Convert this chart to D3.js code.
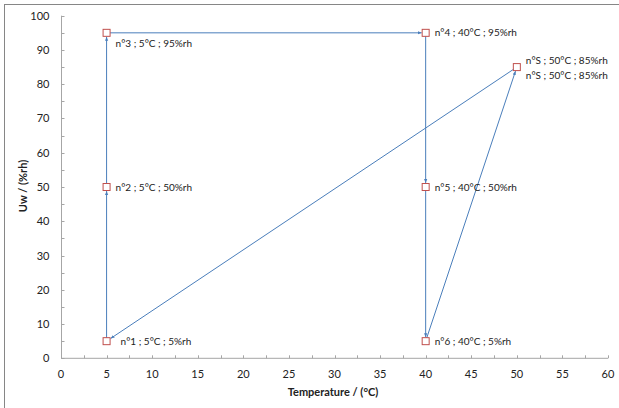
<!DOCTYPE html>
<html>
<head>
<meta charset="utf-8">
<script src="https://cdn.jsdelivr.net/npm/d3@7"></script>
<style>
  body { margin: 0; background: #fff; }
  svg { font-family: Lato, "Open Sans", sans-serif; }
</style>
</head>
<body>
<div id="chart"></div>
<script>
  "use strict";
  // cycle points (temperature, humidity)
  var names = ["n°1", "n°2", "n°3", "n°4", "n°5", "n°6", "n°S"];
  var temps = [5, 5, 5, 40, 40, 40, 50];
  var hums = [5, 50, 95, 95, 50, 5, 85];
  var order = [0, 1, 2, 3, 4, 5, 6, 0];
  var xTicks = d3.range(0, 61, 5);
  var yTicks = d3.range(0, 101, 10);

  var W = 619, H = 408;
  var x = d3.scaleLinear().domain([0, 60]).range([61, 608]);
  var y = d3.scaleLinear().domain([0, 100]).range([358.3, 15.7]);
  var axisCol = "#a6a6a6";
  var lineCol = "#4a7ebb";
  var markCol = "#c0504d";

  var svg = d3.select("#chart").append("svg")
              .attr("width", W).attr("height", H);

  svg.append("rect")
     .attr("x", 4.5).attr("y", 4.5)
     .attr("width", 620).attr("height", 420)
     .attr("fill", "none").attr("stroke", "#868686").attr("stroke-width", 1);

  var defs = svg.append("defs");
  defs.append("marker")
      .attr("id", "arr")
      .attr("viewBox", "0 0 10 10")
      .attr("refX", 10).attr("refY", 5)
      .attr("markerWidth", 4).attr("markerHeight", 4)
      .attr("markerUnits", "userSpaceOnUse")
      .attr("orient", "auto")
    .append("path")
      .attr("d", "M0,1 L10,5 L0,9 z")
      .attr("fill", lineCol);

  // x axis
  var xa = svg.append("g").attr("transform", "translate(0," + y(0) + ")");
  xa.append("line").attr("x1", x(0)).attr("x2", x(60))
    .attr("stroke", axisCol);
  xa.selectAll(".t").data(d3.range(0, 60.1, 2.5)).enter().append("line")
    .attr("x1", function(d) { return Math.round(x(d)) + 0.5; })
    .attr("x2", function(d) { return Math.round(x(d)) + 0.5; })
    .attr("y1", 0).attr("y2", -3).attr("stroke", axisCol);
  xa.selectAll(".l").data(xTicks).enter().append("text")
    .attr("x", function(d) { return x(d); }).attr("y", 20)
    .attr("text-anchor", "middle").attr("font-size", 11).attr("fill", "#222")
    .text(function(d) { return d; });

  // y axis
  var ya = svg.append("g").attr("transform", "translate(" + (Math.round(x(0)) + 0.5) + ",0)");
  ya.append("line").attr("y1", y(0)).attr("y2", y(100)).attr("stroke", axisCol);
  ya.selectAll(".t").data(d3.range(0, 100.1, 5)).enter().append("line")
    .attr("y1", function(d) { return Math.round(y(d)) + 0.5; })
    .attr("y2", function(d) { return Math.round(y(d)) + 0.5; })
    .attr("x1", 0).attr("x2", 3).attr("stroke", axisCol);
  ya.selectAll(".l").data(yTicks).enter().append("text")
    .attr("x", -12).attr("y", function(d) { return y(d) + 4; })
    .attr("text-anchor", "end").attr("font-size", 11).attr("fill", "#222")
    .text(function(d) { return d; });

  // axis titles
  svg.append("text").attr("x", 333).attr("y", 396)
     .attr("text-anchor", "middle").attr("font-size", 11).attr("font-weight", "bold")
     .attr("fill", "#222").text("Temperature / (°C)");
  svg.append("text").attr("transform", "translate(27,186) rotate(-90)")
     .attr("text-anchor", "middle").attr("font-size", 11).attr("font-weight", "bold")
     .attr("fill", "#222").text("Uw / (%rh)");

  // arrows between successive points, stopping at the marker edge
  var segs = d3.pairs(order).map(function(p) {
    var x1 = x(temps[p[0]]), y1 = y(hums[p[0]]);
    var x2 = x(temps[p[1]]), y2 = y(hums[p[1]]);
    var len = Math.hypot(x2 - x1, y2 - y1);
    var ux = (x2 - x1) / len, uy = (y2 - y1) / len;
    var cut = 4 / Math.max(Math.abs(ux), Math.abs(uy));
    return {x1: x1, y1: y1, x2: x2 - ux * cut, y2: y2 - uy * cut};
  });
  svg.selectAll(".seg").data(segs).enter().append("line")
     .attr("x1", function(d) { return d.x1; })
     .attr("y1", function(d) { return d.y1; })
     .attr("x2", function(d) { return d.x2; })
     .attr("y2", function(d) { return d.y2; })
     .attr("stroke", lineCol).attr("stroke-width", 1)
     .attr("marker-end", "url(#arr)");

  // markers
  svg.selectAll(".pt").data(d3.range(names.length)).enter().append("rect")
     .attr("x", function(i) { return x(temps[i]) - 3.5; })
     .attr("y", function(i) { return y(hums[i]) - 3.5; })
     .attr("width", 7).attr("height", 7)
     .attr("fill", "#fff").attr("stroke", markCol).attr("stroke-width", 1);

  // labels
  var dxs = [14, 9, 9, 9, 9, 9, 9];
  var dys = [0, 0, 11, 0, 0, 0, -7];
  function lab(i, dx, dy) {
    svg.append("text")
       .attr("x", x(temps[i]) + dx).attr("y", y(hums[i]) + dy + 3.5)
       .attr("font-size", 10).attr("fill", "#222")
       .text(names[i] + " ; " + temps[i] + "°C ; " + hums[i] + "%rh");
  }
  names.forEach(function(n, i) { lab(i, dxs[i], dys[i]); });
  lab(6, 9, 8);
</script>
</body>
</html>
